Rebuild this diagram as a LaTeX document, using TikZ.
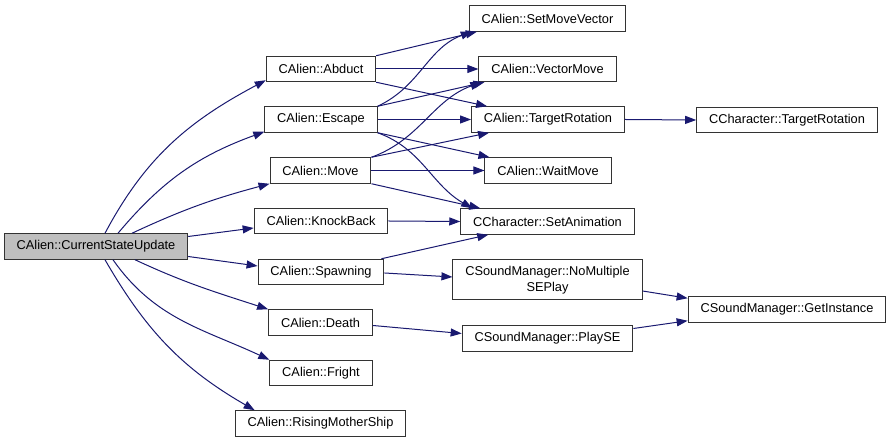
\documentclass[tikz,border=0pt]{standalone}
\usepackage{fontspec}
\setmainfont{Liberation Sans}
\usetikzlibrary{arrows.meta}
\definecolor{midnightblue}{rgb}{0.10,0.10,0.44}
\definecolor{rootgray}{rgb}{0.75,0.75,0.75}
\definecolor{framegray}{rgb}{0.2,0.2,0.2}
\tikzset{
  func/.style={
    draw=framegray,
    fill=white,
    line width=1pt,
    align=center,
    inner xsep=12.4pt,
    inner ysep=2pt,
    minimum height=25.5pt,
    font=\fontsize{12.8}{15.5}\selectfont
  },
  root/.style={
    func,
    fill=rootgray
  },
  call/.style={
    -{Triangle[length=11pt,width=8pt]},
    line width=1pt,
    midnightblue
  }
}
\begin{document}
\begin{tikzpicture}[x=1pt,y=1pt]
\useasboundingbox (0,0) rectangle (891,443);
% callers
\node[root] (csu) at (96,196.5) {CAlien::CurrentStateUpdate};
\node[func] (abduct) at (321,374) {CAlien::Abduct};
\node[func] (escape) at (321,323.5) {CAlien::Escape};
\node[func] (move) at (320.5,272.5) {CAlien::Move};
\node[func] (knock) at (321,222) {CAlien::KnockBack};
\node[func] (spawn) at (321,171) {CAlien::Spawning};
\node[func] (death) at (320.5,120.5) {CAlien::Death};
\node[func] (fright) at (321,70) {CAlien::Fright};
\node[func] (rising) at (320.5,19.5) {CAlien::RisingMotherShip};
% callees
\node[func] (smv) at (547.5,424.5) {CAlien::SetMoveVector};
\node[func] (vm) at (547.5,374) {CAlien::VectorMove};
\node[func] (tr) at (548,323.5) {CAlien::TargetRotation};
\node[func] (wm) at (548,272.5) {CAlien::WaitMove};
\node[func] (anim) at (547.5,221.5) {CCharacter::SetAnimation};
\node[func,minimum height=40pt] (nomul) at (547.5,163) {CSoundManager::NoMultiple\\SEPlay};
\node[func] (playse) at (547.5,104.5) {CSoundManager::PlaySE};
\node[func] (chtr) at (787,323) {CCharacter::TargetRotation};
\node[func] (gi) at (787,133.5) {CSoundManager::GetInstance};

% from the root
\draw[call] ([xshift=9pt]csu.north) to[out=62,in=-152] ([yshift=2pt]abduct.south west);
\draw[call] ([xshift=22pt]csu.north) to[out=50,in=-160] ([yshift=1pt]escape.south west);
\draw[call] ([xshift=36pt]csu.north) to[out=25,in=-165] (move.south west);
\draw[call] ([yshift=10pt]csu.east) -- ([yshift=-7pt]knock.west);
\draw[call] ([yshift=-10pt]csu.east) -- ([yshift=6pt]spawn.west);
\draw[call] ([xshift=39pt]csu.south) to[out=-25,in=162] (death.north west);
\draw[call] ([xshift=17pt]csu.south) to[out=-55,in=155] (fright.north west);
\draw[call] ([xshift=9pt]csu.south) to[out=-60,in=150] ([xshift=20pt]rising.north west);

% second level
\draw[call] (abduct.north east) -- ([xshift=8pt]smv.south west);
\draw[call] (abduct.east) -- (vm.west);
\draw[call] (abduct.south east) -- ([xshift=16pt]tr.north west);
\draw[call] (escape.north east) to[out=25,in=-160] ([xshift=3pt]smv.south west);
\draw[call] (escape.north east) -- ([xshift=6pt]vm.south west);
\draw[call] (escape.east) -- (tr.west);
\draw[call] (escape.south east) -- ([xshift=5pt]wm.north west);
\draw[call] (escape.south east) to[out=-20,in=150] ([xshift=12pt]anim.north west);
\draw[call] (move.north east) to[out=20,in=-160] ([xshift=3pt]vm.south west);
\draw[call] (move.north east) -- ([xshift=18pt]tr.south west);
\draw[call] (move.east) -- (wm.west);
\draw[call] (move.south east) -- ([xshift=20pt]anim.north west);
\draw[call] (knock.east) -- (anim.west);
\draw[call] ([xshift=-3pt]spawn.north east) -- ([xshift=28pt]anim.south west);
\draw[call] ([yshift=-1pt]spawn.east) -- ([yshift=3pt]nomul.west);
\draw[call] ([yshift=-3pt]death.east) -- ([yshift=5pt]playse.west);

% third level
\draw[call] (tr.east) -- (chtr.west);
\draw[call] ([yshift=-11pt]nomul.east) -- ([yshift=-2pt]gi.north west);
\draw[call] ([yshift=10pt]playse.east) -- ([yshift=2pt]gi.south west);
\end{tikzpicture}
\end{document}
